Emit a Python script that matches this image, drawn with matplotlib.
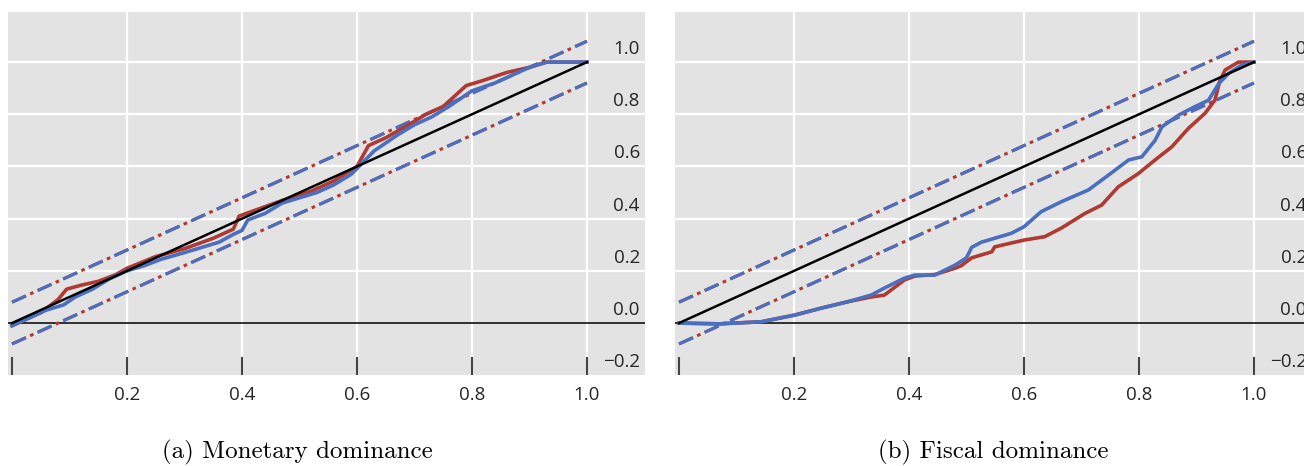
import matplotlib
matplotlib.use("Agg")
import matplotlib.pyplot as plt
import numpy as np

# panel (a): monetary dominance, P-P curves
mon_blue_x = [0.0, 0.03, 0.06, 0.09, 0.11, 0.14, 0.17, 0.20, 0.23, 0.26, 0.30, 0.33, 0.36, 0.385,
              0.40, 0.41, 0.44, 0.47, 0.50, 0.53, 0.56, 0.59, 0.61, 0.63, 0.67, 0.70, 0.73, 0.76,
              0.80, 0.84, 0.87, 0.90, 0.93, 1.0]
mon_blue_y = [-0.01, 0.02, 0.05, 0.07, 0.10, 0.13, 0.17, 0.20, 0.22, 0.245, 0.27, 0.29, 0.31, 0.34,
              0.355, 0.395, 0.42, 0.46, 0.48, 0.50, 0.53, 0.57, 0.615, 0.66, 0.72, 0.76, 0.79, 0.83,
              0.89, 0.92, 0.95, 0.98, 1.0, 1.0]
mon_red_x = [0.0, 0.05, 0.08, 0.095, 0.12, 0.15, 0.18, 0.20, 0.25, 0.30, 0.35, 0.385, 0.395, 0.42,
             0.47, 0.52, 0.56, 0.60, 0.62, 0.65, 0.69, 0.72, 0.75, 0.79, 0.82, 0.86, 0.90, 0.93, 1.0]
mon_red_y = [-0.01, 0.04, 0.09, 0.13, 0.145, 0.16, 0.185, 0.21, 0.255, 0.285, 0.325, 0.36, 0.41, 0.43,
             0.47, 0.505, 0.545, 0.60, 0.68, 0.71, 0.76, 0.80, 0.83, 0.91, 0.93, 0.96, 0.98, 1.0, 1.0]

# panel (b): fiscal dominance
fis_blue_x = [0.0, 0.07, 0.143, 0.20, 0.247, 0.294, 0.334, 0.357, 0.392, 0.41, 0.445, 0.48, 0.50,
              0.509, 0.526, 0.578, 0.60, 0.63, 0.665, 0.712, 0.747, 0.782, 0.805, 0.828, 0.84,
              0.869, 0.897, 0.921, 0.939, 0.956, 0.979, 1.0]
fis_blue_y = [0.0, -0.003, 0.005, 0.03, 0.057, 0.082, 0.107, 0.134, 0.172, 0.184, 0.184, 0.222, 0.25,
              0.29, 0.31, 0.344, 0.369, 0.427, 0.465, 0.51, 0.567, 0.625, 0.637, 0.70, 0.752,
              0.797, 0.829, 0.854, 0.918, 0.957, 0.989, 1.0]
fis_red_x = [0.0, 0.07, 0.143, 0.20, 0.247, 0.294, 0.334, 0.357, 0.392, 0.41, 0.445, 0.48, 0.491,
             0.509, 0.544, 0.549, 0.60, 0.636, 0.665, 0.706, 0.735, 0.764, 0.799, 0.828, 0.857,
             0.886, 0.915, 0.932, 0.941, 0.95, 0.973, 1.0]
fis_red_y = [0.0, -0.003, 0.005, 0.03, 0.057, 0.082, 0.100, 0.107, 0.165, 0.180, 0.186, 0.21, 0.22,
             0.25, 0.273, 0.292, 0.318, 0.331, 0.364, 0.42, 0.452, 0.522, 0.573, 0.625, 0.675,
             0.746, 0.804, 0.854, 0.93, 0.97, 1.0, 1.0]

band = 0.08
x_ticks = [0.0, 0.2, 0.4, 0.6, 0.8, 1.0]
x_labels = ["", "0.2", "0.4", "0.6", "0.8", "1.0"]
y_ticks = [1.0, 0.8, 0.6, 0.4, 0.2, 0.0, -0.2]
y_labels = ["1.0", "0.8", "0.6", "0.4", "0.2", "0.0", "\u22120.2"]
captions = ["(a) Monetary dominance", "(b) Fiscal dominance"]

RED = "#b03a32"
BLUE = "#4a6fc0"
BG = "#e3e3e3"
TXT = "#262626"

fig = plt.figure(figsize=(13.04, 4.66), dpi=100, facecolor="white")
W, H = 1304.0, 466.0
ax_a = fig.add_axes([8 / W, (H - 375) / H, 637 / W, 363 / H])
ax_b = fig.add_axes([675 / W, (H - 375) / H, 637 / W, 363 / H])

panels = [
    (ax_a, mon_red_x, mon_red_y, mon_blue_x, mon_blue_y),
    (ax_b, fis_red_x, fis_red_y, fis_blue_x, fis_blue_y),
]

for i, (ax, rx, ry, bx, by) in enumerate(panels):
    ax.set_facecolor(BG)
    ax.set_xlim(-0.007, 1.101)
    ax.set_ylim(-0.199, 1.192)
    for s in ax.spines.values():
        s.set_visible(False)

    for g in x_ticks[1:]:
        ax.axvline(g, color="white", lw=1.6, zorder=1)
    for g in y_ticks[:-2]:
        ax.axhline(g, color="white", lw=1.6, zorder=1)
    ax.axhline(0.0, color="#111111", lw=1.2, zorder=2)

    diag = np.array([0.0, 1.0])
    for off in (band, -band):
        ax.plot(diag, diag + off, color=RED, lw=2.2, dashes=(5.0, 1.5, 1.2, 1.5), zorder=3)
        ax.plot(diag, diag + off, color=BLUE, lw=2.2, dashes=(5.0, 4.2), zorder=3)

    ax.plot(rx, ry, color=RED, lw=2.6, zorder=4, solid_joinstyle="round")
    ax.plot(bx, by, color=BLUE, lw=2.6, zorder=5, solid_joinstyle="round")
    ax.plot(diag, diag, color="black", lw=1.8, zorder=6)

    ax.set_yticks([])
    ax.set_xticks(x_ticks)
    ax.set_xticklabels(x_labels, fontsize=13.5, fontfamily="Open Sans", color=TXT)
    ax.tick_params(axis="x", direction="in", length=13, width=1.5, color="#444444", pad=8)

    for v, lab in zip(y_ticks, y_labels):
        ax.text(1.092, v + 0.05, lab, ha="right", va="center", fontsize=13.5,
                fontfamily="Open Sans", color=TXT, zorder=7)

fig.text(297 / W, 1 - 452 / H, captions[0], ha="center", va="center",
         fontsize=18, fontfamily="cmr10")
fig.text(993 / W, 1 - 452 / H, captions[1], ha="center", va="center",
         fontsize=18, fontfamily="cmr10")

fig.savefig("out.png", dpi=100, facecolor="white")
